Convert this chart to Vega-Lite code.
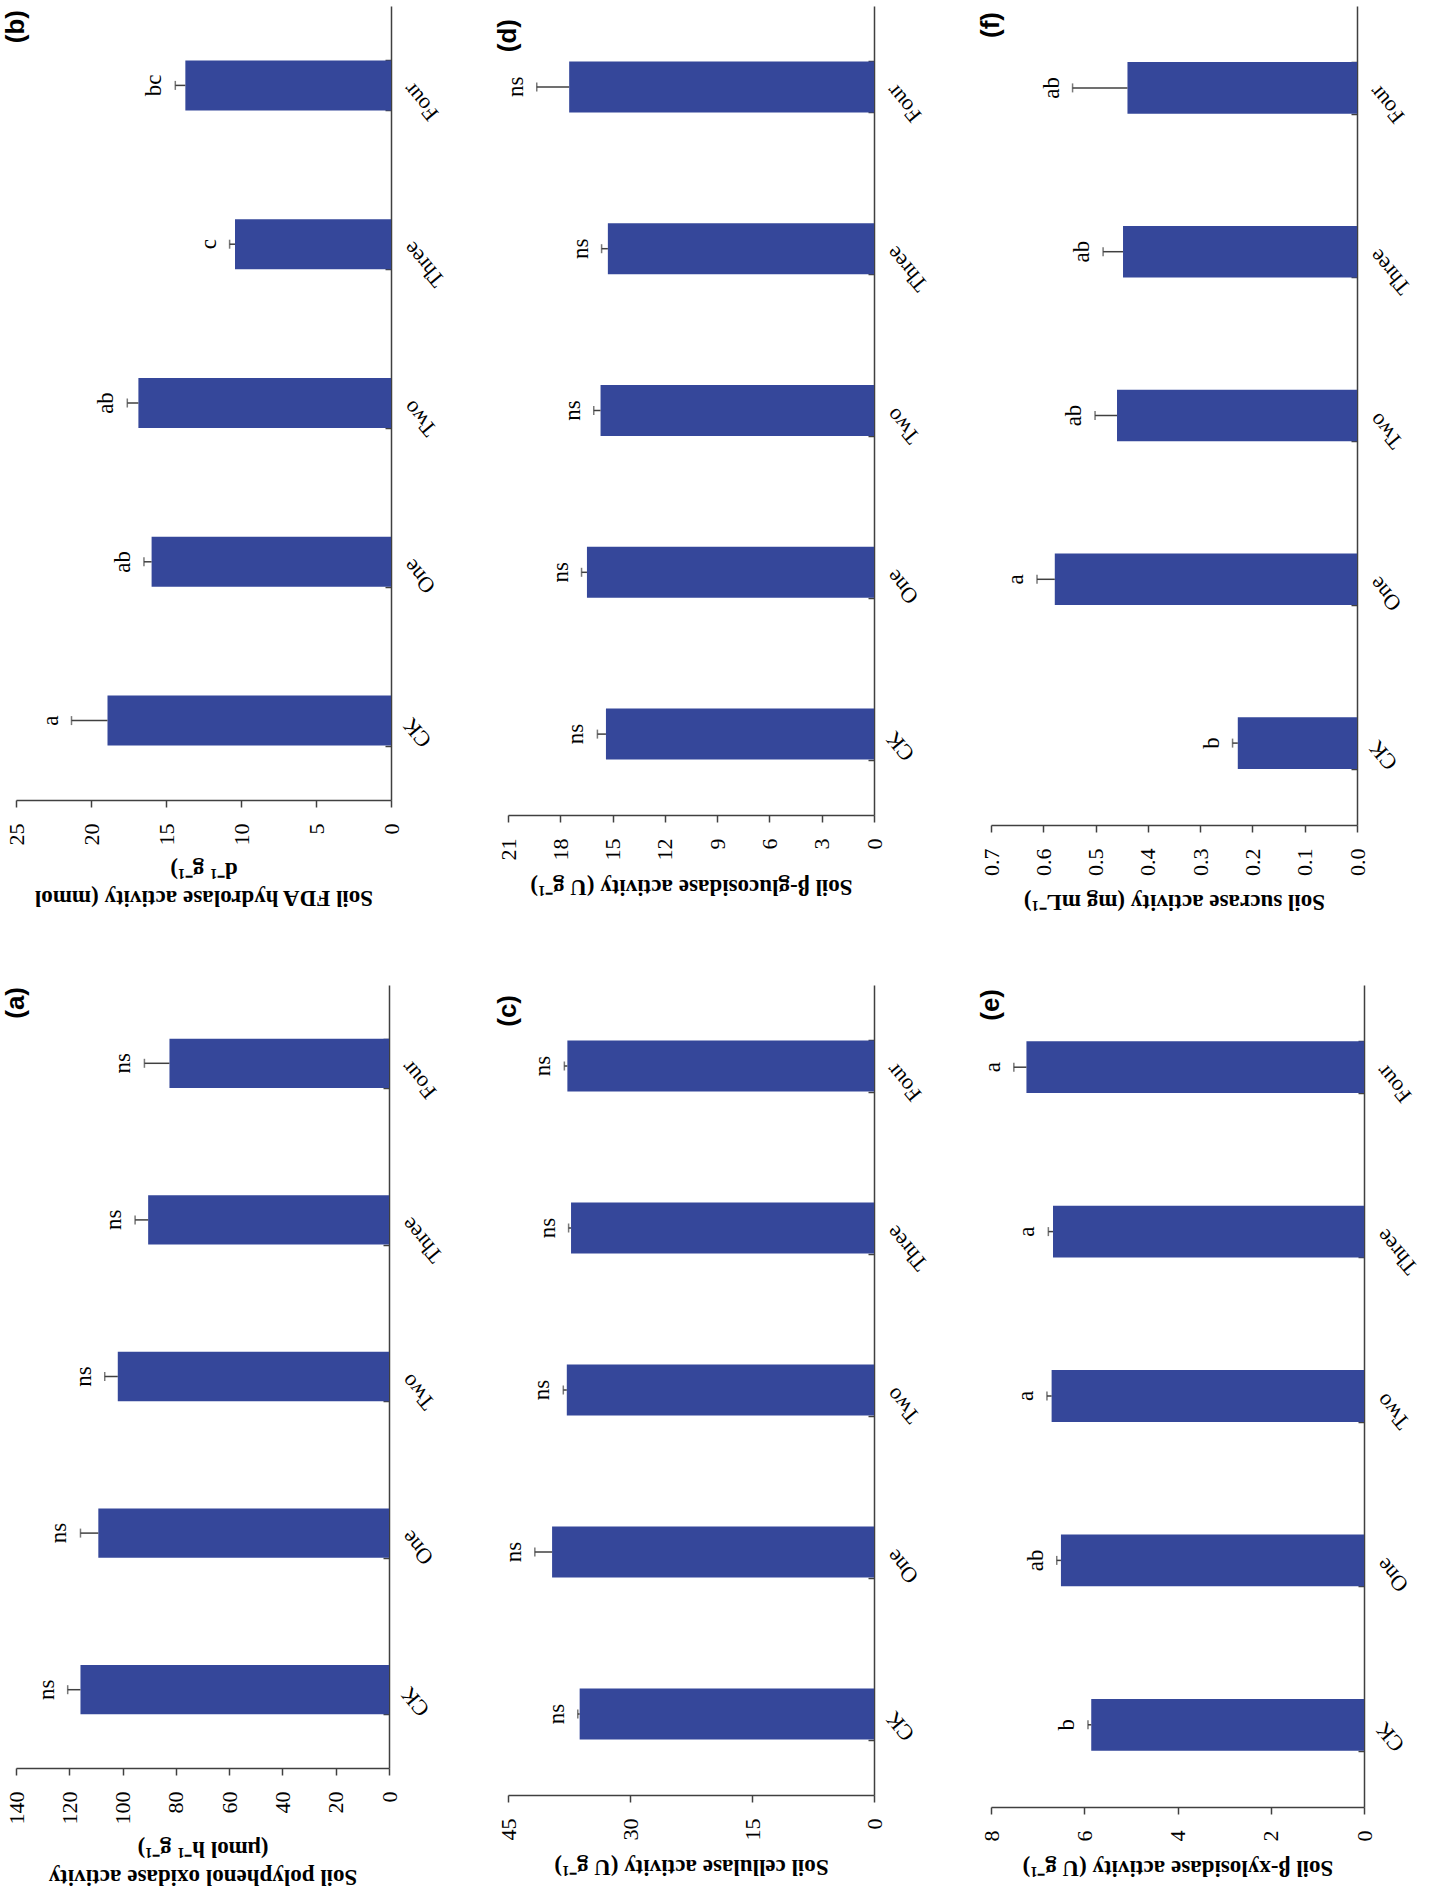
{
  "$schema": "https://vega.github.io/schema/vega-lite/v6.json",
  "padding": {"left": 2, "top": -2, "right": 0, "bottom": 14},
  "background": "white",
  "config": {
    "view": {"stroke": null},
    "bar": {"color": "#35479a"},
    "axis": {"domainColor": "#404040", "domainWidth": 1.5, "tickColor": "#404040", "tickWidth": 1.5, "labelColor": "#000", "titleColor": "#000", "labelFont": "Liberation Serif", "labelFontSize": 22, "titleFont": "Liberation Serif", "titleFontSize": 23, "titleFontWeight": "bold", "grid": false},
    "axisX": {"labelAngle": 270, "labelAlign": "right", "labelBaseline": "middle", "labelPadding": 16, "tickSize": 7, "labelFlush": false, "labelOverlap": false, "titleAngle": 180, "titleBaseline": "bottom", "titlePadding": 14, "titleLineHeight": 28},
    "axisY": {"tickBand": "extent", "tickSize": -6, "labelAngle": 230, "labelAlign": "right", "labelBaseline": "middle", "labelPadding": 22, "labelOverlap": false},
    "title": {"orient": "left", "anchor": "end", "frame": "group", "offset": -24, "font": "Liberation Sans", "fontSize": 26, "fontWeight": "bold", "color": "#000"}
  },
  "datasets": {
    "enz": [
      {"panel": "a", "trt": "CK", "value": 115.8, "upper": 120.6, "sig": "ns"},
      {"panel": "a", "trt": "One", "value": 109.1, "upper": 115.8, "sig": "ns"},
      {"panel": "a", "trt": "Two", "value": 101.8, "upper": 106.7, "sig": "ns"},
      {"panel": "a", "trt": "Three", "value": 90.4, "upper": 95.3, "sig": "ns"},
      {"panel": "a", "trt": "Four", "value": 82.4, "upper": 91.8, "sig": "ns"},
      {"panel": "b", "trt": "CK", "value": 18.9, "upper": 21.3, "sig": "a"},
      {"panel": "b", "trt": "One", "value": 15.96, "upper": 16.47, "sig": "ab"},
      {"panel": "b", "trt": "Two", "value": 16.84, "upper": 17.58, "sig": "ab"},
      {"panel": "b", "trt": "Three", "value": 10.4, "upper": 10.76, "sig": "c"},
      {"panel": "b", "trt": "Four", "value": 13.71, "upper": 14.38, "sig": "bc"},
      {"panel": "c", "trt": "CK", "value": 36.19, "upper": 36.42, "sig": "ns"},
      {"panel": "c", "trt": "One", "value": 39.58, "upper": 41.7, "sig": "ns"},
      {"panel": "c", "trt": "Two", "value": 37.77, "upper": 38.2, "sig": "ns"},
      {"panel": "c", "trt": "Three", "value": 37.25, "upper": 37.55, "sig": "ns"},
      {"panel": "c", "trt": "Four", "value": 37.7, "upper": 38.07, "sig": "ns"},
      {"panel": "d", "trt": "CK", "value": 15.38, "upper": 15.87, "sig": "ns"},
      {"panel": "d", "trt": "One", "value": 16.47, "upper": 16.78, "sig": "ns"},
      {"panel": "d", "trt": "Two", "value": 15.69, "upper": 16.08, "sig": "ns"},
      {"panel": "d", "trt": "Three", "value": 15.27, "upper": 15.63, "sig": "ns"},
      {"panel": "d", "trt": "Four", "value": 17.49, "upper": 19.35, "sig": "ns"},
      {"panel": "e", "trt": "CK", "value": 5.85, "upper": 5.92, "sig": "b"},
      {"panel": "e", "trt": "One", "value": 6.5, "upper": 6.59, "sig": "ab"},
      {"panel": "e", "trt": "Two", "value": 6.7, "upper": 6.8, "sig": "a"},
      {"panel": "e", "trt": "Three", "value": 6.67, "upper": 6.77, "sig": "a"},
      {"panel": "e", "trt": "Four", "value": 7.24, "upper": 7.51, "sig": "a"},
      {"panel": "f", "trt": "CK", "value": 0.228, "upper": 0.238, "sig": "b"},
      {"panel": "f", "trt": "One", "value": 0.578, "upper": 0.612, "sig": "a"},
      {"panel": "f", "trt": "Two", "value": 0.459, "upper": 0.501, "sig": "ab"},
      {"panel": "f", "trt": "Three", "value": 0.4475, "upper": 0.4856, "sig": "ab"},
      {"panel": "f", "trt": "Four", "value": 0.439, "upper": 0.544, "sig": "ab"}
    ]
  },
  "bounds": "flush",
  "columns": 3,
  "spacing": {"row": 160, "column": 117},
  "concat": [
    {
      "width": 375, "height": 794, "title": {"text": "(b)", "dx": -4},
      "data": {"name": "enz"},
      "transform": [{"filter": "datum.panel === 'b'"}],
      "encoding": {"y": {"field": "trt", "type": "nominal", "sort": ["Four", "Three", "Two", "One", "CK"], "scale": {"paddingInner": 0.685, "paddingOuter": 0.3425}, "axis": {"orient": "right", "title": null}}},
      "layer": [
        {"mark": {"type": "bar"}, "encoding": {"x": {"field": "value", "type": "quantitative", "scale": {"domain": [0, 25], "reverse": true, "nice": false}, "axis": {"values": [0, 5, 10, 15, 20, 25], "titlePadding": 40, "title": ["Soil FDA hydrolase activity (mmol", "d⁻¹ g⁻¹)"]}}}},
        {"mark": {"type": "rule", "color": "#404040", "strokeWidth": 1.5}, "encoding": {"x": {"field": "value", "type": "quantitative"}, "x2": {"field": "upper"}}},
        {"mark": {"type": "tick", "orient": "vertical", "size": 9, "thickness": 1.5, "color": "#404040"}, "encoding": {"x": {"field": "upper", "type": "quantitative"}}},
        {"mark": {"type": "text", "angle": 270, "align": "center", "baseline": "alphabetic", "dy": -14, "font": "Liberation Serif", "fontSize": 23, "color": "#000"}, "encoding": {"x": {"field": "upper", "type": "quantitative"}, "text": {"field": "sig"}}}
      ]
    },
    {
      "width": 366, "height": 809, "title": {"text": "(d)", "dx": -13},
      "data": {"name": "enz"},
      "transform": [{"filter": "datum.panel === 'd'"}],
      "encoding": {"y": {"field": "trt", "type": "nominal", "sort": ["Four", "Three", "Two", "One", "CK"], "scale": {"paddingInner": 0.685, "paddingOuter": 0.3425}, "axis": {"orient": "right", "title": null}}},
      "layer": [
        {"mark": {"type": "bar"}, "encoding": {"x": {"field": "value", "type": "quantitative", "scale": {"domain": [0, 21], "reverse": true, "nice": false}, "axis": {"values": [0, 3, 6, 9, 12, 15, 18, 21], "title": "Soil β-glucosidase activity (U g⁻¹)"}}}},
        {"mark": {"type": "rule", "color": "#404040", "strokeWidth": 1.5}, "encoding": {"x": {"field": "value", "type": "quantitative"}, "x2": {"field": "upper"}}},
        {"mark": {"type": "tick", "orient": "vertical", "size": 9, "thickness": 1.5, "color": "#404040"}, "encoding": {"x": {"field": "upper", "type": "quantitative"}}},
        {"mark": {"type": "text", "angle": 270, "align": "center", "baseline": "alphabetic", "dy": -14, "font": "Liberation Serif", "fontSize": 23, "color": "#000"}, "encoding": {"x": {"field": "upper", "type": "quantitative"}, "text": {"field": "sig"}}}
      ]
    },
    {
      "width": 366, "height": 819, "title": {"text": "(f)", "dx": -6},
      "data": {"name": "enz"},
      "transform": [{"filter": "datum.panel === 'f'"}],
      "encoding": {"y": {"field": "trt", "type": "nominal", "sort": ["Four", "Three", "Two", "One", "CK"], "scale": {"paddingInner": 0.685, "paddingOuter": 0.3425}, "axis": {"orient": "right", "title": null}}},
      "layer": [
        {"mark": {"type": "bar"}, "encoding": {"x": {"field": "value", "type": "quantitative", "scale": {"domain": [0, 0.7], "reverse": true, "nice": false}, "axis": {"values": [0, 0.1, 0.2, 0.3, 0.4, 0.5, 0.6, 0.7], "format": ".1f", "title": "Soil sucrase activity (mg mL⁻¹)"}}}},
        {"mark": {"type": "rule", "color": "#404040", "strokeWidth": 1.5}, "encoding": {"x": {"field": "value", "type": "quantitative"}, "x2": {"field": "upper"}}},
        {"mark": {"type": "tick", "orient": "vertical", "size": 9, "thickness": 1.5, "color": "#404040"}, "encoding": {"x": {"field": "upper", "type": "quantitative"}}},
        {"mark": {"type": "text", "angle": 270, "align": "center", "baseline": "alphabetic", "dy": -14, "font": "Liberation Serif", "fontSize": 23, "color": "#000"}, "encoding": {"x": {"field": "upper", "type": "quantitative"}, "text": {"field": "sig"}}}
      ]
    },
    {
      "width": 373, "height": 783, "title": {"text": "(a)", "dx": -2},
      "data": {"name": "enz"},
      "transform": [{"filter": "datum.panel === 'a'"}],
      "encoding": {"y": {"field": "trt", "type": "nominal", "sort": ["Four", "Three", "Two", "One", "CK"], "scale": {"paddingInner": 0.685, "paddingOuter": 0.3425}, "axis": {"orient": "right", "title": null}}},
      "layer": [
        {"mark": {"type": "bar"}, "encoding": {"x": {"field": "value", "type": "quantitative", "scale": {"domain": [0, 140], "reverse": true, "nice": false}, "axis": {"values": [0, 20, 40, 60, 80, 100, 120, 140], "titlePadding": 40, "title": ["Soil polyphenol oxidase activity", "(μmol h⁻¹ g⁻¹)"]}}}},
        {"mark": {"type": "rule", "color": "#404040", "strokeWidth": 1.5}, "encoding": {"x": {"field": "value", "type": "quantitative"}, "x2": {"field": "upper"}}},
        {"mark": {"type": "tick", "orient": "vertical", "size": 9, "thickness": 1.5, "color": "#404040"}, "encoding": {"x": {"field": "upper", "type": "quantitative"}}},
        {"mark": {"type": "text", "angle": 270, "align": "center", "baseline": "alphabetic", "dy": -14, "font": "Liberation Serif", "fontSize": 23, "color": "#000"}, "encoding": {"x": {"field": "upper", "type": "quantitative"}, "text": {"field": "sig"}}}
      ]
    },
    {
      "width": 366, "height": 810, "title": {"text": "(c)", "dx": -10},
      "data": {"name": "enz"},
      "transform": [{"filter": "datum.panel === 'c'"}],
      "encoding": {"y": {"field": "trt", "type": "nominal", "sort": ["Four", "Three", "Two", "One", "CK"], "scale": {"paddingInner": 0.685, "paddingOuter": 0.3425}, "axis": {"orient": "right", "title": null}}},
      "layer": [
        {"mark": {"type": "bar"}, "encoding": {"x": {"field": "value", "type": "quantitative", "scale": {"domain": [0, 45], "reverse": true, "nice": false}, "axis": {"values": [0, 15, 30, 45], "title": "Soil cellulase activity (U g⁻¹)"}}}},
        {"mark": {"type": "rule", "color": "#404040", "strokeWidth": 1.5}, "encoding": {"x": {"field": "value", "type": "quantitative"}, "x2": {"field": "upper"}}},
        {"mark": {"type": "tick", "orient": "vertical", "size": 9, "thickness": 1.5, "color": "#404040"}, "encoding": {"x": {"field": "upper", "type": "quantitative"}}},
        {"mark": {"type": "text", "angle": 270, "align": "center", "baseline": "alphabetic", "dy": -14, "font": "Liberation Serif", "fontSize": 23, "color": "#000"}, "encoding": {"x": {"field": "upper", "type": "quantitative"}, "text": {"field": "sig"}}}
      ]
    },
    {
      "width": 373, "height": 822, "title": {"text": "(e)", "dx": -4},
      "data": {"name": "enz"},
      "transform": [{"filter": "datum.panel === 'e'"}],
      "encoding": {"y": {"field": "trt", "type": "nominal", "sort": ["Four", "Three", "Two", "One", "CK"], "scale": {"paddingInner": 0.685, "paddingOuter": 0.3425}, "axis": {"orient": "right", "title": null}}},
      "layer": [
        {"mark": {"type": "bar"}, "encoding": {"x": {"field": "value", "type": "quantitative", "scale": {"domain": [0, 8], "reverse": true, "nice": false}, "axis": {"values": [0, 2, 4, 6, 8], "title": "Soil β-xylosidase activity (U g⁻¹)"}}}},
        {"mark": {"type": "rule", "color": "#404040", "strokeWidth": 1.5}, "encoding": {"x": {"field": "value", "type": "quantitative"}, "x2": {"field": "upper"}}},
        {"mark": {"type": "tick", "orient": "vertical", "size": 9, "thickness": 1.5, "color": "#404040"}, "encoding": {"x": {"field": "upper", "type": "quantitative"}}},
        {"mark": {"type": "text", "angle": 270, "align": "center", "baseline": "alphabetic", "dy": -14, "font": "Liberation Serif", "fontSize": 23, "color": "#000"}, "encoding": {"x": {"field": "upper", "type": "quantitative"}, "text": {"field": "sig"}}}
      ]
    }
  ]
}
